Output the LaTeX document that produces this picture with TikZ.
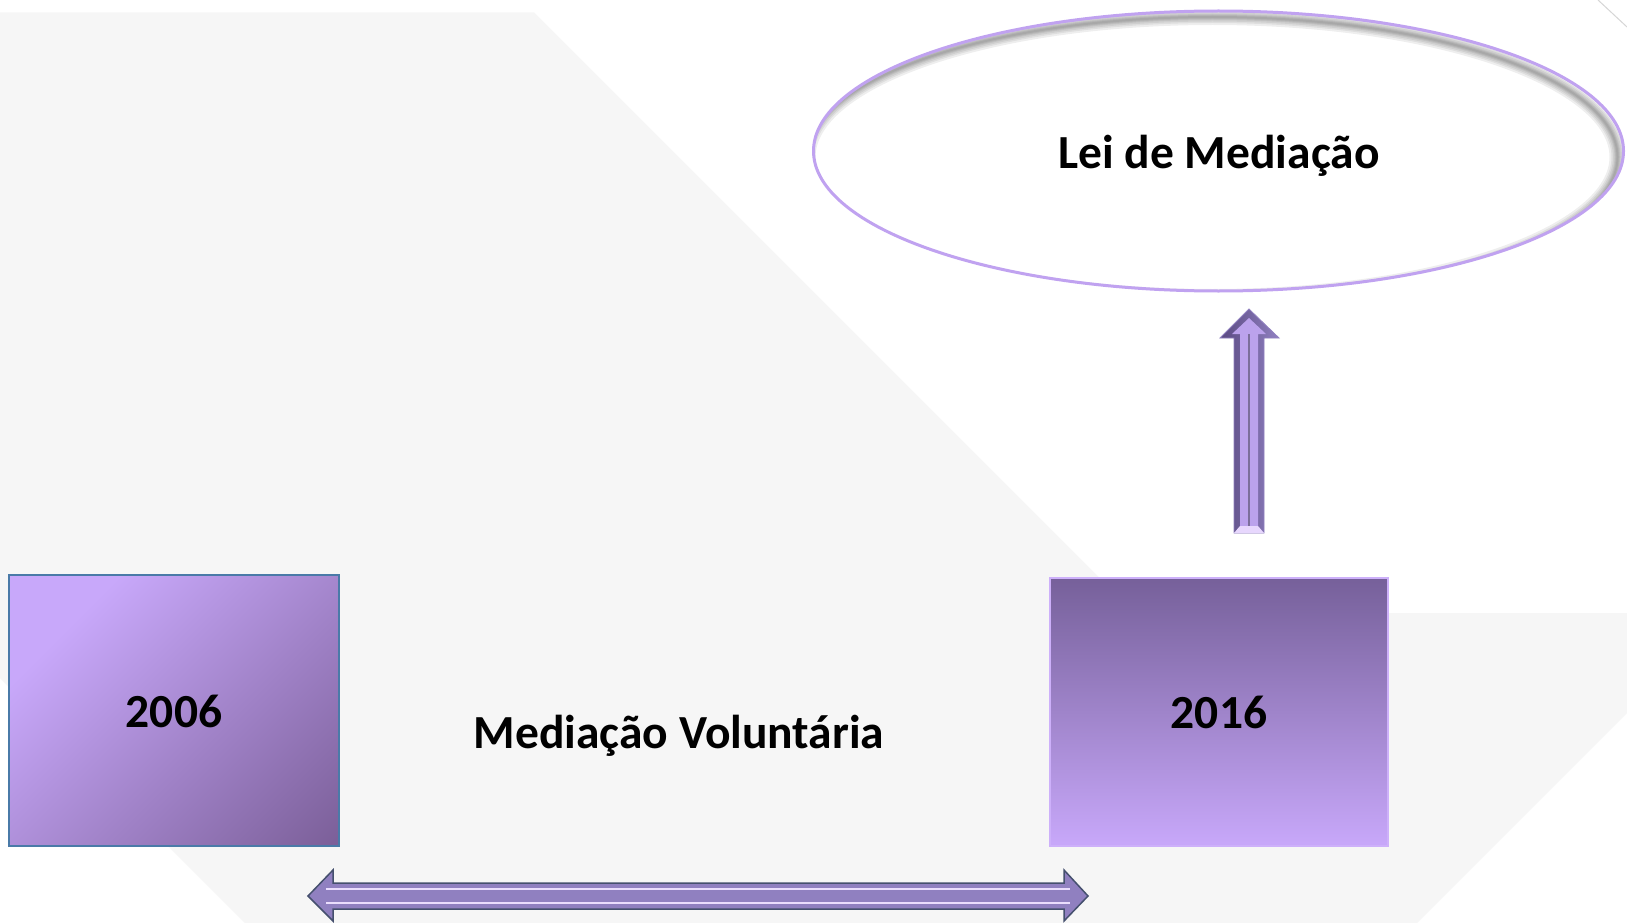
\documentclass[tikz,border=0pt]{standalone}
\usepackage{fontspec}
\setmainfont{Carlito}
\usetikzlibrary{shapes.geometric}
\definecolor{bggrey}{HTML}{F6F6F6}
\definecolor{edgegrey}{HTML}{D6D6D6}
\definecolor{boxAlight}{HTML}{C8A8FA}
\definecolor{boxAmid}{HTML}{AE92DB}
\definecolor{boxAdark}{HTML}{765A92}
\definecolor{boxAborder}{HTML}{4A7AA8}
\definecolor{boxBtop}{HTML}{76609A}
\definecolor{boxBbottom}{HTML}{C8A8FA}
\definecolor{boxBborder}{HTML}{CDB0FA}
\definecolor{ellborder}{HTML}{C0A2F0}
\definecolor{arrdark}{HTML}{5A4A82}
\definecolor{arrmid}{HTML}{9080C0}
\definecolor{arrface}{HTML}{BBA2EC}
\definecolor{arrlight}{HTML}{DCC6FC}
\definecolor{arroutline}{HTML}{45506E}
\begin{document}
\begin{tikzpicture}[x=1pt,y=-1pt,
  lbl/.style={font=\fontsize{47.5}{52}\selectfont\bfseries, text=black, inner sep=0pt, anchor=base},
  boxshape/.style={rectangle, inner sep=0pt, line width=2pt},
]
\useasboundingbox (0,0) rectangle (1627,923);
\fill[white] (0,0) rectangle (1627,923);
% background grey shape
\fill[bggrey] (0,12.5) -- (534,12.5) -- (1134.5,613) -- (1627,613) -- (1627,713)
  -- (1417,923) -- (245,923) -- (0,678) -- cycle;
\draw[edgegrey, line width=1pt] (1598,0) -- (1627,27);

% ellipse
\node[ellipse, minimum width=810pt, minimum height=280pt, inner sep=0pt, fill=white] (lei) at (1218.5,151) {};
\begin{scope}
  \clip (1218.5,151) ellipse [x radius=405, y radius=140];
  \foreach \w in {16,12,9,6,4,2} {
    \draw[black, opacity=0.065, line width=\w pt] (1212.5,157) ellipse [x radius=405, y radius=140];
  }
\end{scope}
\draw[ellborder, line width=3pt] (1218.5,151) ellipse [x radius=405, y radius=140];
\node[lbl] (leitxt) at (1219,168) {Lei de Mediação};

% box 2006
\node[boxshape, minimum width=328pt, minimum height=269pt] (b2006) at (174,710.5) {};
\begin{scope}
  \clip (b2006.north west) rectangle (b2006.south east);
  \shade[top color=boxAlight, middle color=boxAmid, bottom color=boxAdark, shading angle=45]
    (b2006.north west) rectangle ([shift={(70,70)}]b2006.south east);
\end{scope}
\draw[boxAborder, line width=2pt] (b2006.north west) rectangle (b2006.south east);
\node[lbl] (t2006) at (174,727) {2006};

% box 2016
\node[boxshape, minimum width=336pt, minimum height=266pt] (b2016) at (1219,712) {};
\shade[top color=boxBtop, bottom color=boxBbottom]
  (b2016.north west) rectangle (b2016.south east);
\draw[boxBborder, line width=2pt] (b2016.north west) rectangle (b2016.south east);
\node[lbl] (t2016) at (1219,728) {2016};

% middle label
\node[lbl] (mv) at (679,748) {Mediação Voluntária};

% up arrow (block arrow)
\coordinate (uptip) at (1249,309);
\shade[left color=arrdark, right color=arrmid, draw=arrmid, line width=0.8pt]
  (uptip) -- (1279,338) -- (1264,338) -- (1264,533) -- (1234,533) -- (1234,338) -- (1220,338) -- cycle;
\shade[left color=arrface, middle color=arrlight, right color=arrface]
  (1249,318) -- (1266,334) -- (1258,334) -- (1258,526) -- (1240,526) -- (1240,334) -- (1232,334) -- cycle;
\fill[arrlight!70!white] (1234,533) -- (1240,526) -- (1258,526) -- (1264,533) -- cycle;
\draw[arrdark!80, line width=1.2pt] (1249,334) -- (1249,526);

% horizontal double arrow
\coordinate (ltip) at (308,896);
\coordinate (rtip) at (1088,896);
\shade[top color=arrmid, middle color=arrlight, bottom color=arrmid, draw=arroutline, line width=1.5pt]
  (ltip) -- (333,870) -- (333,883) -- (1064,883) -- (1064,870) -- (rtip) -- (1064,921)
  -- (1064,909) -- (333,909) -- (333,921) -- cycle;
\draw[arrlight!60!white, line width=2pt] (326,889) -- (1070,889);
\draw[arrmid, line width=2.5pt] (322,896) -- (1076,896);
\draw[arrlight!60!white, line width=2pt] (326,903) -- (1070,903);
\end{tikzpicture}
\end{document}
